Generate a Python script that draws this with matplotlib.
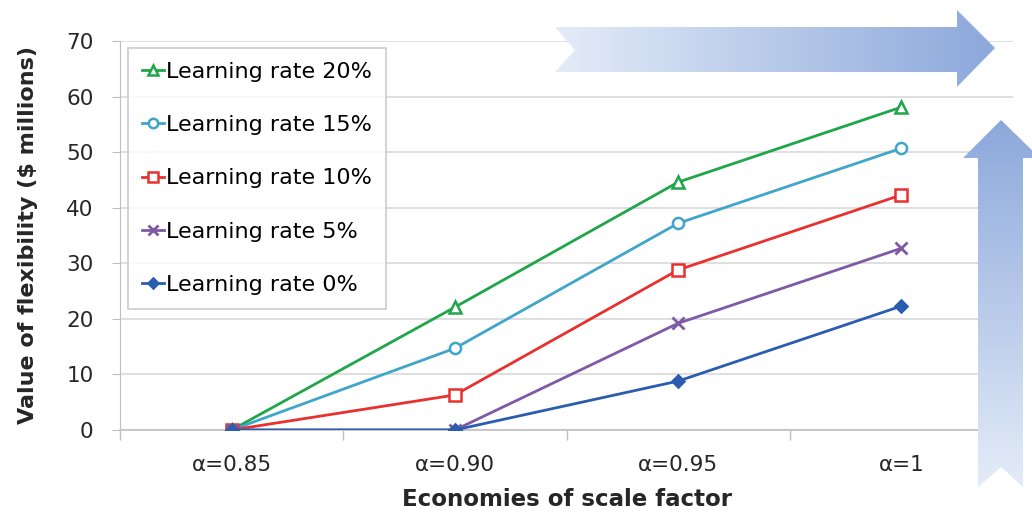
import numpy as np
import matplotlib.pyplot as plt
from matplotlib.patches import Polygon

plt.rcParams['font.family'] = ['DejaVu Sans']

# Economies of scale categories and value of flexibility ($ millions)
categories = ['α=0.85', 'α=0.90', 'α=0.95', 'α=1']
series_labels = ['Learning rate 20%', 'Learning rate 15%', 'Learning rate 10%',
                 'Learning rate 5%', 'Learning rate 0%']
lr20 = [0, 22.1, 44.6, 58.1]
lr15 = [0, 14.7, 37.2, 50.7]
lr10 = [0, 6.3, 28.8, 42.3]
lr5 = [0, 0, 19.2, 32.7]
lr0 = [0, 0, 8.8, 22.3]

colors = ['#1fa64a', '#3fa6c9', '#e8312f', '#7e5aa6', '#2a5db0']
markers = ['^', 'o', 's', 'x', 'D']
msizes = [8, 8, 8, 9, 6]

fig = plt.figure(figsize=(10.32, 5.17), dpi=100)
W, H = 1032, 517
ax = fig.add_axes([120 / W, 1 - 430 / H, (1013 - 120) / W, (430 - 41) / H])

x = np.arange(len(categories))
for vals, lab, c, m, ms in zip([lr20, lr15, lr10, lr5, lr0], series_labels,
                               colors, markers, msizes):
    mfc = c if m in ('D', 'x') else 'white'
    ax.plot(x, vals, color=c, lw=2, marker=m, ms=ms, mfc=mfc, mec=c,
            mew=2 if m == 'x' else 1.8, label=lab, zorder=3)

ax.set_xlim(-0.5, len(categories) - 0.5)
ax.set_ylim(0, 70)
ax.set_yticks(range(0, 71, 10))
ax.set_xticks(x)
ax.set_xticklabels(categories)
ax.set_xticks(np.arange(-0.5, len(categories)), minor=True)
ax.tick_params(axis='x', which='major', length=0, pad=18, labelsize=15.5,
               labelcolor='#262626')
ax.tick_params(axis='x', which='minor', length=7, color='#bfbfbf', width=1)
ax.tick_params(axis='y', length=6, color='#bfbfbf', pad=13, labelsize=15.5,
               labelcolor='#262626')
ax.grid(axis='y', color='#d9d9d9', lw=1.2)
ax.set_axisbelow(True)
for s in ['top', 'right']:
    ax.spines[s].set_visible(False)
ax.spines['left'].set_color('#bfbfbf')
ax.spines['bottom'].set_color('#bfbfbf')
ax.spines['bottom'].set_linewidth(1.2)

ax.set_xlabel('Economies of scale factor', fontsize=16.5, fontweight='bold',
              color='#262626', labelpad=9)
ax.set_ylabel('Value of flexibility ($ millions)', fontsize=16,
              fontweight='bold', color='#262626', labelpad=20)

leg = ax.legend(loc='upper left', bbox_to_anchor=(8 / 893, 1 - 7 / 389),
                fontsize=16, frameon=True, fancybox=False, handlelength=1.0,
                handletextpad=0.1, labelspacing=1.5, borderpad=0.62,
                borderaxespad=0, markerscale=0.85)
leg.get_frame().set_edgecolor('#bfbfbf')
leg.get_frame().set_linewidth(1.2)

# overlay in pixel space for the two gradient arrows
ov = fig.add_axes([0, 0, 1, 1], zorder=5)
ov.set_xlim(0, W)
ov.set_ylim(H, 0)
ov.axis('off')
ov.patch.set_alpha(0)

light = np.array([0xe4, 0xec, 0xf8]) / 255
dark = np.array([0x8c, 0xa8, 0xdb]) / 255


def gradient_arrow(pts, horizontal):
    xs = [p[0] for p in pts]
    ys = [p[1] for p in pts]
    t = np.linspace(0, 1, 256)
    if horizontal:
        grad = light[None, :] * (1 - t[:, None]) + dark[None, :] * t[:, None]
        img = grad[None, :, :]
    else:
        grad = dark[None, :] * (1 - t[:, None]) + light[None, :] * t[:, None]
        img = grad[:, None, :]
    poly = Polygon(pts, closed=True, fc='none', ec='none')
    ov.add_patch(poly)
    im = ov.imshow(img, extent=(min(xs), max(xs), max(ys), min(ys)),
                   aspect='auto', interpolation='bilinear')
    im.set_clip_path(poly)


gradient_arrow([(555, 27), (957, 27), (957, 10), (995, 48), (957, 87),
                (957, 72), (555, 72), (575, 50)], horizontal=True)
gradient_arrow([(1001, 120), (1040, 158), (1023, 158), (1023, 487),
                (1001, 467), (978, 487), (978, 158), (963, 158)],
               horizontal=False)
ov.set_xlim(0, W)
ov.set_ylim(H, 0)

fig.savefig('out.png', dpi=100)
